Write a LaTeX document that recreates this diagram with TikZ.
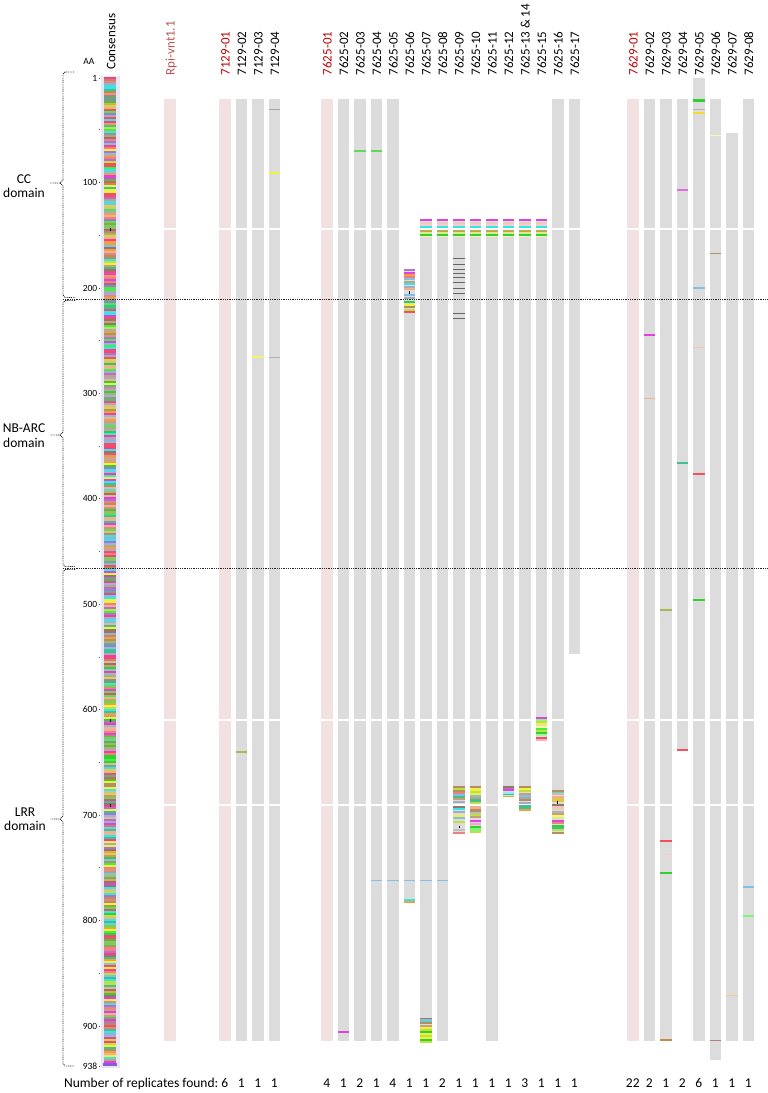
\documentclass[tikz,border=0pt]{standalone}
\usepackage{fontspec}
\setmainfont{Carlito}
\definecolor{barg}{HTML}{DCDCDC}
\definecolor{barp}{HTML}{F2E1E1}
\definecolor{labred}{HTML}{C00000}
\definecolor{rpired}{HTML}{B85450}
\definecolor{consbg}{HTML}{E6E6F6}
\definecolor{pal0}{HTML}{FF3C8C}
\definecolor{pal1}{HTML}{E040E0}
\definecolor{pal2}{HTML}{B09060}
\definecolor{pal3}{HTML}{C8A078}
\definecolor{pal4}{HTML}{30E8E8}
\definecolor{pal5}{HTML}{30D030}
\definecolor{pal6}{HTML}{40F040}
\definecolor{pal7}{HTML}{F0F040}
\definecolor{pal8}{HTML}{C0E040}
\definecolor{pal9}{HTML}{80C0E8}
\definecolor{pal10}{HTML}{F08080}
\definecolor{pal11}{HTML}{F0B090}
\definecolor{pal12}{HTML}{B070D0}
\definecolor{pal13}{HTML}{907868}
\definecolor{pal14}{HTML}{40C090}
\definecolor{pal15}{HTML}{F0A040}
\definecolor{pal16}{HTML}{F05060}
\definecolor{pal17}{HTML}{A8A8C8}
\tikzset{
  collabel/.style={rotate=90, anchor=west, inner sep=0pt, text height=8.6pt, text depth=0pt, font=\fontsize{13}{15}\selectfont},
  axlab/.style={anchor=east, inner sep=0pt, font=\fontsize{9.5}{11}\selectfont},
  domlab/.style={align=center, inner sep=0pt, font=\fontsize{13.5}{14.5}\selectfont},
  cnt/.style={anchor=base, inner sep=0pt, font=\fontsize{13.5}{15}\selectfont},
  dotline/.style={line width=0.9pt, dash pattern=on 0.9pt off 0.9pt, black!85},
  gapline/.style={white, line width=1.3pt},
}
\newcommand{\colbar}[4][barg]{\fill[#1] (#2,#3) rectangle ({#2+11.5},#4);}
\newcommand{\mut}[4][1.6]{\fill[#4] (#2,#3) rectangle ({#2+11.5},{#3+#1});}
\begin{document}
\begin{tikzpicture}[x=1pt,y=-1pt]
\path[use as bounding box] (0,0) rectangle (768,1093);
% ---------- consensus ----------
\fill[consbg] (100.5,76) rectangle (119.5,1068);
\pgfmathsetseed{4242}
\foreach \i in {0,...,493}{
  \pgfmathrandominteger{\r}{0}{17}
  \fill[pal\r] (104,{77+2*\i}) rectangle (116,{79+2*\i});
}
\fill[pal12!80!blue] (103,1063) rectangle (117,1066);
\foreach \y in {229,720,805}{\draw[black, line width=0.6pt] (110,\y-1.5) -- (110,\y+1.5);}
% ---------- axis ----------
\node[axlab] (aa) at (94.5,61) {AA};
\foreach \v [count=\k] in {1,100,200,300,400,500,600,700,800,900,938}{
  \pgfmathsetmacro{\yy}{77.1+1.0543*\v}
  \node[axlab] (ax\k) at (97.5,\yy) {\v};
  \fill[black!70] (98.8,\yy-0.4) rectangle (100.3,\yy+0.4);
}
\foreach \v in {50,150,...,850}{
  \pgfmathsetmacro{\yy}{77.1+1.0543*\v}
  \fill[black!70] (99.3,\yy-0.4) rectangle (100.3,\yy+0.4);
}
% ---------- domain braces ----------
\draw[dotline] (74,72) -- (65,72) -- (63,74) -- (63,180) -- (60,183) -- (50,183);
\draw[dotline] (60,183) -- (63,186) -- (63,295) -- (65,297.5) -- (75,297.5);
\draw[dotline] (75,300.5) -- (65,300.5) -- (63,303) -- (63,432) -- (60,435) -- (50,435);
\draw[dotline] (60,435) -- (63,438) -- (63,564) -- (65,566.5) -- (75,566.5);
\draw[dotline] (75,569.5) -- (65,569.5) -- (63,572) -- (63,816) -- (60,819) -- (50,819);
\draw[dotline] (60,819) -- (63,822) -- (63,1063) -- (65,1066) -- (75,1066);
\node[domlab] (cc) at (24,186) {CC\\domain};
\node[domlab] (nbarc) at (24,435.5) {NB-ARC\\domain};
\node[domlab] (lrr) at (25,819) {LRR\\domain};
% ---------- bars ----------
\colbar[barp]{164}{99}{1041}
\colbar[barp]{219}{99}{1041}
\colbar{235.5}{99}{1041}
\colbar{252}{99}{1041}
\colbar{268.5}{99}{1041}
\colbar[barp]{321}{99}{1041}
\colbar{337.5}{99}{1041}
\colbar{354}{99}{1041}
\colbar{370.5}{99}{1041}
\colbar{387}{99}{1041}
\colbar{403.5}{269}{903}
\colbar{420}{219}{1043}
\colbar{436.5}{219}{1041}
\colbar{453}{219}{834}
\colbar{469.5}{219}{833}
\colbar{486}{219}{1041}
\colbar{502.5}{219}{797}
\colbar{519}{219}{811}
\colbar{535.5}{219}{741}
\colbar{552}{99}{834}
\colbar{568.5}{99}{654}
\colbar[barp]{627}{99}{1041}
\colbar{643.5}{99}{1041}
\colbar{660}{99}{1041}
\colbar{676.5}{99}{751}
\colbar{693}{78}{1041}
\colbar{709.5}{99}{1060}
\colbar{726}{133}{1041}
\colbar{742.5}{99}{1041}
% white gaps
\foreach \y in {229,720,805}{\draw[gapline] (150,\y) -- (768,\y);}
% ---------- mutations 7129 ----------
\mut[1.2]{268.5}{108.5}{black!35}
\mut[2]{268.5}{172}{pal7}
\mut[2]{252}{356}{pal7!80!white}
\mut[1.2]{268.5}{357}{black!30}
\mut[2]{235.5}{751}{pal8!60!gray}
% ---------- mutations 7625 ----------
\mut[1.5]{337.5}{1031}{pal1}
\mut[2]{354}{149.5}{pal5!80!white}
\mut[2]{370.5}{149.5}{pal5!80!white}
\foreach \x in {370.5,387,403.5,420,436.5}{\mut[1.2]{\x}{880}{pal9}}
\foreach \x in {420,436.5,453,469.5,486,502.5,519,535.5}{
  \mut[1.5]{\x}{219}{pal1}
  \mut[2.5]{\x}{221.5}{pal3!50!white}
  \mut[1.5]{\x}{224}{pal10!40!white}
  \mut[2.2]{\x}{226}{pal4}
  \mut[1.8]{\x}{230}{pal2!80!yellow}
  \mut[1.5]{\x}{232}{pal8!60!white}
  \mut[1.8]{\x}{234.3}{pal5}
  \mut[1]{\x}{236}{pal7!40!white}
}
\foreach \y in {257.7,264,269,272.7,276.7,282,288,293,313,318}{\mut[1.2]{453}{\y}{black!60}}
% 7625-06 top block
\foreach \y/\c in {269/pal12,271.5/pal1,273.5/pal15,275.5/pal10,278/pal9,280.5/pal3,283/pal4,285.5/pal17,288/pal11,294/pal9,296.5/pal17,301/pal5,303.5/pal7,306/pal2,308.5/pal8,311/pal16}{\mut[2.4]{403.5}{\y}{\c}}
\draw[black, line width=0.6pt] (409.25,290.5) -- (409.25,294);
\mut[1.5]{403.5}{899}{pal4}
\mut[2]{403.5}{901}{pal15}
% 7625-07 bottom
\foreach \y/\c in {1017.5/pal16,1019/pal4,1021/pal17,1022/pal2,1025/pal3,1027/pal7,1029/pal8,1031/pal5,1033/pal7,1035/pal8,1037/pal7,1039/pal5,1041/pal8}{\mut[2]{420}{\y}{\c}}
% 7625-09 bottom
\foreach \y/\c in {785.7/pal2,787.5/pal8,789.5/pal2,791.7/pal10,794/pal9,796/pal14,798.3/pal3,800.5/pal17,806/pal13,808.3/pal4,811/pal17,815/pal7,817.3/pal9,820.5/pal8,829.3/black!25,831.7/pal10}{\mut[2.1]{453}{\y}{\c}}
\draw[black, line width=0.6pt] (459,825.5) -- (459,828);
% 7625-10 bottom
\foreach \y/\c in {785.7/pal2,788.3/pal7,790.5/pal8,792.5/pal7,795/pal9,797/pal3,799.3/pal14,801.5/pal8,805.5/pal11,807.5/pal11,809.3/pal2,811.5/black!25,813.7/pal8,816/pal3,820/pal1,822.5/pal0!50!white,825.5/pal5,828.3/pal6!70!white,830.7/pal8}{\mut[2.2]{469.5}{\y}{\c}}
% 7625-12
\foreach \y/\c in {785.7/pal13,787.7/pal12,789.3/pal1,791.7/pal4!60!white,793.5/pal14,795.5/pal15}{\mut[1.8]{502.5}{\y}{\c}}
% 7625-13&14
\foreach \y/\c in {785.7/pal2,788/pal7,790.3/pal8,792.5/pal3,794.7/pal9,797/black!35,799.3/pal2,801.5/pal17,805/pal14,807/pal14,809/pal15}{\mut[2.1]{519}{\y}{\c}}
% 7625-15
\foreach \y/\c in {716.7/pal1,718.7/pal6!60!white,721/pal8,723.3/pal7,725.5/pal7!50!white,727.7/pal6,730/pal8,732/pal5,734/pal6!50!white,736.7/pal16,738.7/pal10!60!white}{\mut[2.1]{535.5}{\y}{\c}}
% 7625-16
\foreach \y/\c in {790/pal2,791.7/pal4,793.3/pal11,795.5/pal11,797.5/pal3!60!yellow,799.5/pal3!60!yellow,804.3/pal13,806.3/pal10!50!white,808.3/pal3!50!white,810.5/black!30,812.5/pal3,814.7/pal7!70!white,817/pal8!60!white,820/pal1,822/pal10,824.5/pal5,826.7/pal14,829/pal8,831.5/pal2}{\mut[2.1]{552}{\y}{\c}}
\draw[black, line width=0.6pt] (557.75,800.5) -- (557.75,803.5);
% ---------- mutations 7629 ----------
\mut[3]{693}{99}{pal5}
\mut[1.3]{693}{108.5}{black!30}
\mut[2]{693}{112}{pal7!80!orange}
\mut[1]{709.5}{134.5}{pal7!40!white}
\mut[2]{676.5}{188.5}{pal1!80!white}
\mut[1.5]{643.5}{334}{pal1}
\mut[1]{643.5}{398}{pal11}
\mut[1.5]{693}{287}{pal9}
\mut[1]{693}{347}{pal11!70!white}
\mut[1.5]{693}{473}{pal16}
\mut[1.5]{676.5}{462}{pal14}
\mut[1.2]{709.5}{253}{pal2}
\mut[1.5]{693}{599}{pal5}
\mut[1.5]{660}{609}{pal8!60!gray}
\mut[2]{676.5}{749}{pal16}
\mut[1.5]{660}{840}{pal16}
\mut[1]{660}{854}{pal10!40!white}
\mut[1.5]{660}{872}{pal5}
\mut[1.5]{742.5}{886}{pal9}
\mut[1.5]{742.5}{915}{pal6!70!white}
\mut[1]{726}{995}{pal15!60!white}
\mut[2]{660}{1039}{pal2!70!orange}
\mut[1.2]{709.5}{1040}{pal10!40!gray}
% ---------- labels ----------
\node[collabel] (lcons) at (111,70) {Consensus};
\foreach \nm/\x/\c [count=\k] in {
  Rpi-vnt1.1/164/rpired, 7129-01/219/labred, 7129-02/235.5/black, 7129-03/252/black, 7129-04/268.5/black,
  7625-01/321/labred, 7625-02/337.5/black, 7625-03/354/black, 7625-04/370.5/black, 7625-05/387/black,
  7625-06/403.5/black, 7625-07/420/black, 7625-08/436.5/black, 7625-09/453/black, 7625-10/469.5/black,
  7625-11/486/black, 7625-12/502.5/black, 7625-13 \& 14/519/black, 7625-15/535.5/black, 7625-16/552/black,
  7625-17/568.5/black, 7629-01/627/labred, 7629-02/643.5/black, 7629-03/660/black, 7629-04/676.5/black,
  7629-05/693/black, 7629-06/709.5/black, 7629-07/726/black, 7629-08/742.5/black}{
  \node[collabel, text=\c] (lab\k) at ({\x+6.3},75.5) {\nm};
}
\node[cnt, anchor=base east] (nrf) at (218.5,1087.5) {Number of replicates found:};
\foreach \n/\x [count=\k] in {6/219,1/235.5,1/252,1/268.5,
  4/321,1/337.5,2/354,1/370.5,4/387,1/403.5,1/420,2/436.5,1/453,1/469.5,1/486,1/502.5,3/519,1/535.5,1/552,1/568.5,
  22/627,2/643.5,1/660,2/676.5,6/693,1/709.5,1/726,1/742.5}{
  \node[cnt] (cnt\k) at ({\x+5.75},1087.5) {\n};
}
% domain separators
\draw[dotline] (63,299) -- (768,299);
\draw[dotline] (63,568) -- (768,568);
\end{tikzpicture}
\end{document}
